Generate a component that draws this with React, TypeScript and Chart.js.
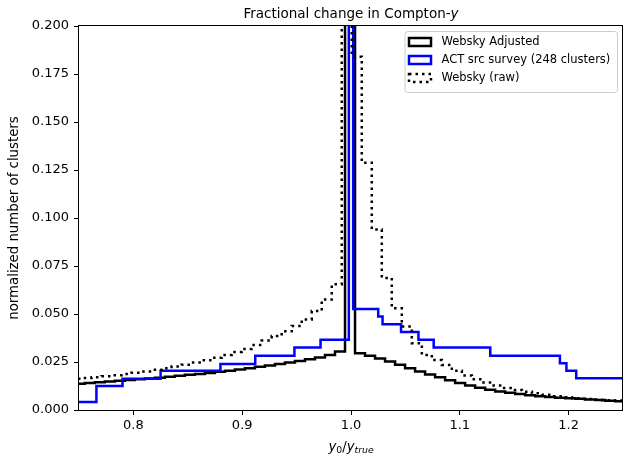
import React, { useEffect, useRef } from "react";
import { Chart, registerables } from "chart.js";

Chart.register(...registerables);

// ---------- data ----------
const X_MIN = 0.75;
const X_MAX = 1.25;
const Y_MIN = 0;
const Y_MAX = 0.2;
const xTicks = [0.8, 0.9, 1.0, 1.1, 1.2];
const yTicks = [0, 0.025, 0.05, 0.075, 0.1, 0.125, 0.15, 0.175, 0.2];

const seriesLabels = ["Websky Adjusted", "ACT src survey (248 clusters)", "Websky (raw)"];

// bin edges of the adjusted Websky histogram
const adjustedEdges = [
  0.7461, 0.7553, 0.7645, 0.7737, 0.7829, 0.7921, 0.8013, 0.8105, 0.8197, 0.8289,
  0.8381, 0.8473, 0.8565, 0.8657, 0.8749, 0.8841, 0.8933, 0.9025, 0.9117, 0.9209,
  0.9301, 0.9393, 0.9485, 0.9577, 0.9669, 0.9761, 0.9853, 0.9945, 1.0037, 1.0129,
  1.0221, 1.0313, 1.0405, 1.0497, 1.0589, 1.0681, 1.0773, 1.0865, 1.0957, 1.1049,
  1.1141, 1.1233, 1.1325, 1.1417, 1.1509, 1.1601, 1.1693, 1.1785, 1.1877, 1.1969,
  1.2061, 1.2153, 1.2245, 1.2337, 1.2429, 1.2521, 1.2613,
];

// bin edges of the raw Websky histogram
const rawEdges = [
  0.7431, 0.7523, 0.7615, 0.7707, 0.7799, 0.7891, 0.7983, 0.8075, 0.8167, 0.8259,
  0.8351, 0.8443, 0.8535, 0.8627, 0.8719, 0.8811, 0.8903, 0.8995, 0.9087, 0.9179,
  0.9271, 0.9363, 0.9455, 0.9547, 0.9639, 0.9731, 0.9823, 0.9915, 1.0007, 1.0099,
  1.0191, 1.0283, 1.0375, 1.0467, 1.0559, 1.0651, 1.0743, 1.0835, 1.0927, 1.1019,
  1.1111, 1.1203, 1.1295, 1.1387, 1.1479, 1.1571, 1.1663, 1.1755, 1.1847, 1.1939,
  1.2031, 1.2123, 1.2215, 1.2307, 1.2399, 1.2491, 1.2583,
];

const webskyAdjusted = [
  0.0137, 0.014, 0.0144, 0.0148, 0.0152, 0.0156, 0.016, 0.0164, 0.0168, 0.0173,
  0.0178, 0.0183, 0.0188, 0.0193, 0.0199, 0.0205, 0.0211, 0.0218, 0.0225, 0.0232,
  0.0239, 0.0247, 0.0255, 0.0264, 0.0274, 0.0286, 0.0305,
  0.5,
  0.0296, 0.0283, 0.0268, 0.0252, 0.0236, 0.0218, 0.02, 0.0185, 0.017, 0.0155,
  0.014, 0.0127, 0.0116, 0.0106, 0.0097, 0.009, 0.0083, 0.0077, 0.0072, 0.0068,
  0.0064, 0.0061, 0.0058, 0.0055, 0.0052, 0.0048, 0.0045, 0.0042,
];

const webskyRaw = [
  0.0163, 0.0167, 0.0171, 0.0176, 0.0181, 0.0187, 0.0194, 0.0201, 0.0209, 0.0217,
  0.0226, 0.0236, 0.0247, 0.0259, 0.0272, 0.0286, 0.0302, 0.0318, 0.0338, 0.0362,
  0.0385, 0.041, 0.0438, 0.0472, 0.0515, 0.0575, 0.0655,
  0.45,
  0.184, 0.1288, 0.094, 0.0688, 0.053, 0.0435, 0.0348, 0.0287, 0.026, 0.0235,
  0.0205, 0.018, 0.016, 0.0143, 0.0128, 0.0115, 0.0104, 0.0095, 0.0087, 0.0079,
  0.0071, 0.0066, 0.0061, 0.0057, 0.0054, 0.0051, 0.0049, 0.0047,
];

const actEdges = [
  0.745, 0.766, 0.79, 0.825, 0.88, 0.912, 0.948, 0.972, 0.998, 1.002,
  1.025, 1.029, 1.046, 1.062, 1.076, 1.128, 1.192, 1.198, 1.207, 1.26,
];
const actValues = [
  0.0042, 0.0125, 0.0163, 0.0205, 0.024, 0.0282, 0.0325, 0.0366, 0.5,
  0.0526, 0.0487, 0.0447, 0.0406, 0.0366, 0.0325, 0.0282, 0.0244, 0.0205, 0.0165,
];

// ---------- helpers ----------
function stepPoints(edges: number[], vals: number[]) {
  const pts: { x: number; y: number }[] = [{ x: edges[0], y: 0 }];
  for (let i = 0; i < vals.length; i++) pts.push({ x: edges[i], y: vals[i] });
  pts.push({ x: edges[edges.length - 1], y: vals[vals.length - 1] });
  pts.push({ x: edges[edges.length - 1], y: 0 });
  return pts;
}

const FONT = "'DejaVu Sans', sans-serif";

type Run = { text: string; font: string; dy?: number; w?: number };
function drawRuns(ctx: CanvasRenderingContext2D, runs: Run[], cx: number, y: number) {
  let total = 0;
  for (const r of runs) {
    ctx.font = r.font;
    r.w = ctx.measureText(r.text).width;
    total += r.w;
  }
  let x = cx - total / 2;
  ctx.textAlign = "left";
  ctx.textBaseline = "alphabetic";
  for (const r of runs) {
    ctx.font = r.font;
    ctx.fillText(r.text, x, y + (r.dy || 0));
    x += r.w || 0;
  }
}

const overlay = {
  id: "overlay",
  afterDatasetsDraw(chart: any) {
    const { ctx, chartArea: a } = chart;
    ctx.save();
    ctx.strokeStyle = "#000";
    ctx.lineWidth = 1;
    ctx.strokeRect(a.left - 0.5, a.top - 0.5, a.right - a.left, a.bottom - a.top + 1);
    ctx.restore();
  },
  afterDraw(chart: any) {
    const { ctx, chartArea: a } = chart;
    ctx.save();
    ctx.fillStyle = "#000";
    const cx = (a.left + a.right) / 2;

    // title
    drawRuns(
      ctx,
      [
        { text: "Fractional change in Compton-", font: `13.5px ${FONT}` },
        { text: "y", font: `italic 13.5px ${FONT}` },
      ],
      cx,
      18
    );

    // x label  y0/ytrue
    drawRuns(
      ctx,
      [
        { text: "y", font: `italic 13.3px ${FONT}` },
        { text: "0", font: `9.3px ${FONT}`, dy: 2 },
        { text: "/", font: `13.3px ${FONT}` },
        { text: "y", font: `italic 13.3px ${FONT}` },
        { text: "true", font: `italic 9.3px ${FONT}`, dy: 2 },
      ],
      cx,
      451
    );

    // y label
    ctx.save();
    ctx.translate(15, (a.top + a.bottom) / 2);
    ctx.rotate(-Math.PI / 2);
    ctx.font = `13.3px ${FONT}`;
    ctx.textAlign = "center";
    ctx.textBaseline = "middle";
    ctx.fillText("normalized number of clusters", 0, 0);
    ctx.restore();

    // legend
    const lx = 405, ly = 31.5, lw = 212.5, lh = 61, r = 3;
    ctx.beginPath();
    ctx.moveTo(lx + r, ly);
    ctx.lineTo(lx + lw - r, ly);
    ctx.arcTo(lx + lw, ly, lx + lw, ly + r, r);
    ctx.lineTo(lx + lw, ly + lh - r);
    ctx.arcTo(lx + lw, ly + lh, lx + lw - r, ly + lh, r);
    ctx.lineTo(lx + r, ly + lh);
    ctx.arcTo(lx, ly + lh, lx, ly + lh - r, r);
    ctx.lineTo(lx, ly + r);
    ctx.arcTo(lx, ly, lx + r, ly, r);
    ctx.closePath();
    ctx.fillStyle = "rgba(255,255,255,0.8)";
    ctx.fill();
    ctx.strokeStyle = "#cccccc";
    ctx.lineWidth = 1;
    ctx.stroke();

    const rows = [42, 60, 78];
    chart.data.datasets.forEach((ds: any, i: number) => {
      const y = rows[i];
      ctx.save();
      ctx.fillStyle = "#fff";
      ctx.fillRect(409, y - 4, 22, 8);
      ctx.strokeStyle = ds.borderColor;
      ctx.lineWidth = ds.borderWidth;
      ctx.setLineDash(ds.borderDash || []);
      ctx.lineJoin = "miter";
      ctx.strokeRect(409, y - 4, 22, 8);
      ctx.restore();
      ctx.fillStyle = "#000";
      ctx.font = `11.5px ${FONT}`;
      ctx.textAlign = "left";
      ctx.textBaseline = "middle";
      ctx.fillText(ds.label, 441.5, y);
    });
    ctx.restore();
  },
};

export default function App() {
  const ref = useRef<HTMLCanvasElement>(null);
  useEffect(() => {
    document.body.style.margin = "0";
    const tickFont = { family: FONT, size: 13 };
    const chart = new Chart(ref.current as HTMLCanvasElement, {
      type: "line",
      data: {
        datasets: [
          {
            label: seriesLabels[0],
            data: stepPoints(adjustedEdges, webskyAdjusted),
            borderColor: "#000000",
            backgroundColor: "#ffffff",
            borderWidth: 2.5,
            stepped: "before",
            pointRadius: 0,
            fill: false,
            order: 3,
          },
          {
            label: seriesLabels[1],
            data: stepPoints(actEdges, actValues),
            borderColor: "#0000ff",
            backgroundColor: "#ffffff",
            borderWidth: 2.5,
            stepped: "before",
            pointRadius: 0,
            fill: false,
            order: 2,
          },
          {
            label: seriesLabels[2],
            data: stepPoints(rawEdges, webskyRaw),
            borderColor: "#000000",
            backgroundColor: "#ffffff",
            borderWidth: 2.5,
            borderDash: [2.5, 4],
            borderCapStyle: "butt",
            stepped: "before",
            pointRadius: 0,
            fill: false,
            order: 1,
          },
        ] as any,
      },
      options: {
        animation: false,
        responsive: false,
        devicePixelRatio: 1,
        events: [],
        layout: { padding: { top: 26, right: 0, left: 0, bottom: 0 } },
        plugins: {
          legend: { display: false },
          title: { display: false },
          tooltip: { enabled: false },
        },
        scales: {
          x: {
            type: "linear",
            min: X_MIN,
            max: X_MAX,
            afterBuildTicks: (s: any) => {
              s.ticks = xTicks.map((v) => ({ value: v }));
            },
            afterFit: (s: any) => {
              s.height = 47;
            },
            border: { display: false },
            grid: {
              drawOnChartArea: false,
              drawTicks: true,
              tickLength: 5,
              tickColor: "#000",
              tickWidth: 1,
            },
            ticks: {
              font: tickFont,
              color: "#000",
              padding: 3,
              maxRotation: 0,
              autoSkip: false,
              callback: (v: any) => Number(v).toFixed(1),
            },
          },
          y: {
            type: "linear",
            min: Y_MIN,
            max: Y_MAX,
            afterBuildTicks: (s: any) => {
              s.ticks = yTicks.map((v) => ({ value: v }));
            },
            afterFit: (s: any) => {
              s.width = 79;
            },
            border: { display: false },
            grid: {
              drawOnChartArea: false,
              drawTicks: true,
              tickLength: 5,
              tickColor: "#000",
              tickWidth: 1,
            },
            ticks: {
              font: tickFont,
              color: "#000",
              padding: 5,
              autoSkip: false,
              callback: (v: any) => Number(v).toFixed(3),
            },
          },
        },
      } as any,
      plugins: [overlay],
    });
    return () => chart.destroy();
  }, []);

  return (
    <div style={{ position: "fixed", left: 0, top: 0, width: 623, height: 457, background: "#fff" }}>
      <canvas ref={ref} width={623} height={457} style={{ display: "block" }} />
    </div>
  );
}
